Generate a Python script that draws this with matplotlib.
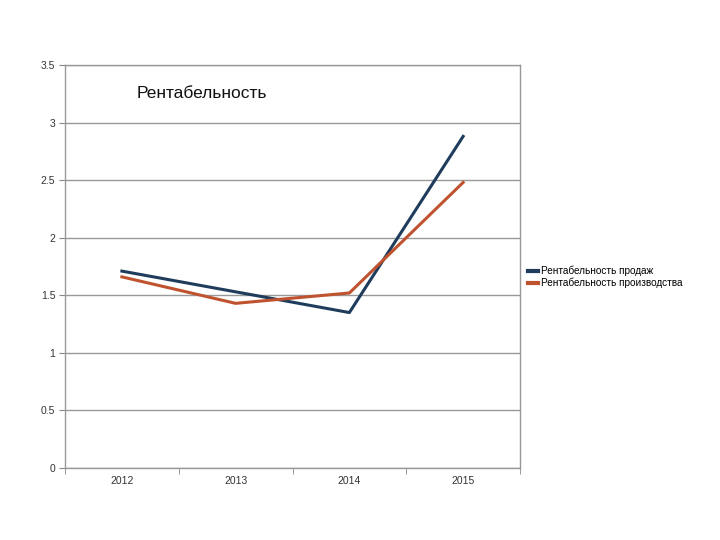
import matplotlib
matplotlib.use("Agg")
import matplotlib.pyplot as plt
import numpy as np

years = ["2012", "2013", "2014", "2015"]
sales = [1.71, 1.53, 1.35, 2.88]
production = [1.66, 1.43, 1.52, 2.48]
yticks = [0, 0.5, 1, 1.5, 2, 2.5, 3, 3.5]
ytick_labels = ["0", "0.5", "1", "1.5", "2", "2.5", "3", "3.5"]

plt.rcParams['font.family'] = ['Liberation Sans', 'DejaVu Sans']
fig = plt.figure(figsize=(7.2, 5.4), dpi=100)
ax = fig.add_axes([65/720, 1-468/540, (520-65)/720, (468-65)/540])

x = np.arange(len(years))
ax.plot(x, sales, color='#1F3C5C', lw=2.2, label='Рентабельность продаж')
ax.plot(x, production, color='#C0532F', lw=2.2, label='Рентабельность производства')

ax.set_xlim(-0.5, 3.5)
ax.set_ylim(0, 3.5)
ax.set_yticks(yticks)
ax.set_yticklabels(ytick_labels)
ax.set_xticks(x)
ax.set_xticklabels(years)
ax.set_xticks(np.arange(-0.5, 4, 1), minor=True)
ax.tick_params(axis='x', which='major', length=0, labelsize=7.5, pad=6, colors='#333333')
ax.tick_params(axis='x', which='minor', length=4, color='#888888', direction='out')
ax.tick_params(axis='y', length=4, labelsize=7.5, color='#888888', labelcolor='#333333', pad=3)
ax.grid(axis='y', color='#999999', lw=1)
ax.set_axisbelow(True)
for s in ax.spines.values():
    s.set_color('#999999')
    s.set_linewidth(1)

ax.text(137/720, 1-94/540, 'Рентабельность', transform=fig.transFigure,
        fontsize=12.5, ha='left', va='center', color='#111111')

leg = fig.legend(loc='upper left', bbox_to_anchor=(524/720, 1-262/540),
                 frameon=False, fontsize=7.2, handlelength=1.0, handletextpad=0.3,
                 labelspacing=0.15, borderaxespad=0)
for line in leg.get_lines():
    line.set_linewidth(3)

fig.savefig('out.png', dpi=100, facecolor='white')
